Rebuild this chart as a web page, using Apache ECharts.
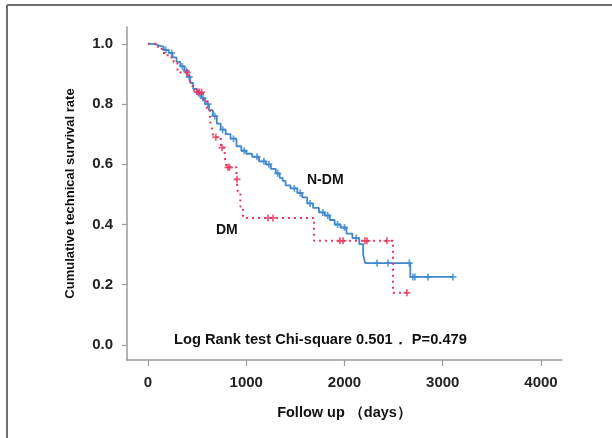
<!DOCTYPE html>
<html>
<head>
<meta charset="utf-8">
<script src="https://cdn.jsdelivr.net/npm/echarts@6/dist/echarts.min.js"></script>
<style>
html,body{margin:0;padding:0;background:#fff;}
#chart{width:612px;height:438px;}
</style>
</head>
<body>
<div id="chart"></div>
<script>
// ---- Data ----
var xTicks = [0, 1000, 2000, 3000, 4000];
var yTicks = [0, 0.2, 0.4, 0.6, 0.8, 1.0];

// N-DM Kaplan-Meier steps [days, survival]
var ndmSteps = [
  [0,1.0],[60,0.995],[110,0.99],[160,0.98],[210,0.97],[250,0.955],[290,0.94],[330,0.925],
  [370,0.91],[400,0.89],[430,0.87],[460,0.85],[500,0.835],[540,0.82],[580,0.80],[620,0.78],
  [660,0.76],[700,0.735],[740,0.715],[790,0.70],[840,0.685],[900,0.66],[950,0.645],[1000,0.635],
  [1060,0.625],[1130,0.61],[1200,0.60],[1250,0.585],[1300,0.57],[1340,0.555],[1370,0.545],
  [1400,0.53],[1450,0.52],[1520,0.505],[1570,0.49],[1620,0.47],[1680,0.455],[1740,0.44],
  [1800,0.43],[1850,0.415],[1900,0.40],[1960,0.39],[2020,0.37],[2080,0.355],[2150,0.335],
  [2190,0.30],[2210,0.272],[2670,0.226],[3104,0.226]
];
var ndmCensored = [
  [180,0.98],[240,0.97],[350,0.925],[390,0.91],[420,0.89],[520,0.835],[560,0.82],[610,0.80],
  [680,0.76],[760,0.715],[870,0.685],[980,0.645],[1110,0.625],[1180,0.61],[1230,0.60],
  [1320,0.57],[1490,0.52],[1550,0.505],[1650,0.47],[1780,0.44],[1830,0.43],[1930,0.40],
  [2000,0.39],[2120,0.355],[2331,0.272],[2443,0.272],[2660,0.272],[2697,0.226],[2717,0.226],
  [2850,0.226],[3104,0.226]
];

// DM Kaplan-Meier steps [days, survival]
var dmSteps = [
  [0,1.0],[80,0.99],[140,0.97],[200,0.955],[260,0.94],[300,0.905],[420,0.885],[440,0.86],
  [470,0.84],[560,0.81],[600,0.78],[630,0.745],[650,0.72],[665,0.69],[740,0.655],[780,0.625],
  [800,0.59],[900,0.55],[915,0.51],[940,0.46],[967,0.422],[1690,0.346],[2494,0.173],[2636,0.173]
];
var dmCensored = [
  [400,0.905],[500,0.84],[520,0.84],[545,0.84],[690,0.69],[753,0.655],[814,0.59],[830,0.59],
  [906,0.55],[1222,0.422],[1272,0.422],[1954,0.346],[1985,0.346],[2209,0.346],[2229,0.346],
  [2432,0.346],[2636,0.173]
];

var labelNDM = 'N-DM';
var labelDM = 'DM';
var statText = 'Log Rank test Chi-square 0.501\uff0e P=0.479';
var xName = 'Follow up \uff08days\uff09';
var yName = 'Cumulative technical survival rate';

// ---- Chart ----
var plus = 'path://M3,0H5V3H8V5H5V8H3V5H0V3H3Z';
var blue = '#3f88cf';
var red = '#e8375d';
var font = 'Liberation Sans, Arial, sans-serif';

var chart = echarts.init(document.getElementById('chart'), null, {renderer:'canvas'});
chart.setOption({
  animation: false,
  backgroundColor: '#fff',
  grid: {left:127, right:50, top:27, bottom:78},
  xAxis: {
    type:'value', min:-214, max:4214,
    name: xName, nameLocation:'middle', nameGap:45,
    nameTextStyle:{fontFamily:font, fontWeight:'bold', fontSize:14.5, color:'#111'},
    axisLine:{show:true, onZero:false, lineStyle:{color:'#9a9a9a', width:1.5}},
    axisTick:{show:true, length:6, lineStyle:{color:'#9a9a9a', width:1.2}, customValues:xTicks},
    axisLabel:{fontFamily:font, fontWeight:'bold', fontSize:15, color:'#222', margin:15,
      customValues:xTicks, formatter:function(v){return String(v);}},
    splitLine:{show:false}
  },
  yAxis: {
    type:'value', min:-0.05, max:1.056,
    name: yName, nameLocation:'middle', nameGap:50,
    nameTextStyle:{fontFamily:font, fontWeight:'bold', fontSize:13, color:'#111'},
    axisLine:{show:true, onZero:false, lineStyle:{color:'#9a9a9a', width:1.5}},
    axisTick:{show:true, length:5, lineStyle:{color:'#9a9a9a', width:1.2}, customValues:yTicks},
    axisLabel:{fontFamily:font, fontWeight:'bold', fontSize:15, color:'#222', margin:14,
      customValues:yTicks, formatter:function(v){return v.toFixed(1);}},
    splitLine:{show:false}
  },
  series: [
    {type:'line', name:'N-DM', data:ndmSteps, step:'end', showSymbol:false, z:3,
     lineStyle:{color:blue, width:1.8}},
    {type:'scatter', name:'N-DM censored', data:ndmCensored, symbol:plus, symbolSize:7, z:4,
     itemStyle:{color:blue}},
    {type:'line', name:'DM', data:dmSteps, step:'end', showSymbol:false, z:5,
     lineStyle:{color:red, width:2, type:[2,4]}},
    {type:'scatter', name:'DM censored', data:dmCensored, symbol:plus, symbolSize:7, z:6,
     itemStyle:{color:red}}
  ],
  graphic: [
    {type:'line', shape:{x1:7, y1:5, x2:612, y2:5}, style:{stroke:'#6e6e6e', lineWidth:2}, silent:true},
    {type:'line', shape:{x1:7, y1:5, x2:7, y2:438}, style:{stroke:'#6e6e6e', lineWidth:2}, silent:true},
    {type:'text', left:307, top:173, style:{text:labelNDM, font:'bold 14px '+font, fill:'#111'}},
    {type:'text', left:216, top:223, style:{text:labelDM, font:'bold 14px '+font, fill:'#111'}},
    {type:'text', left:174, top:332, style:{text:statText, font:'bold 14.7px '+font, fill:'#111'}}
  ]
});
</script>
</body>
</html>
